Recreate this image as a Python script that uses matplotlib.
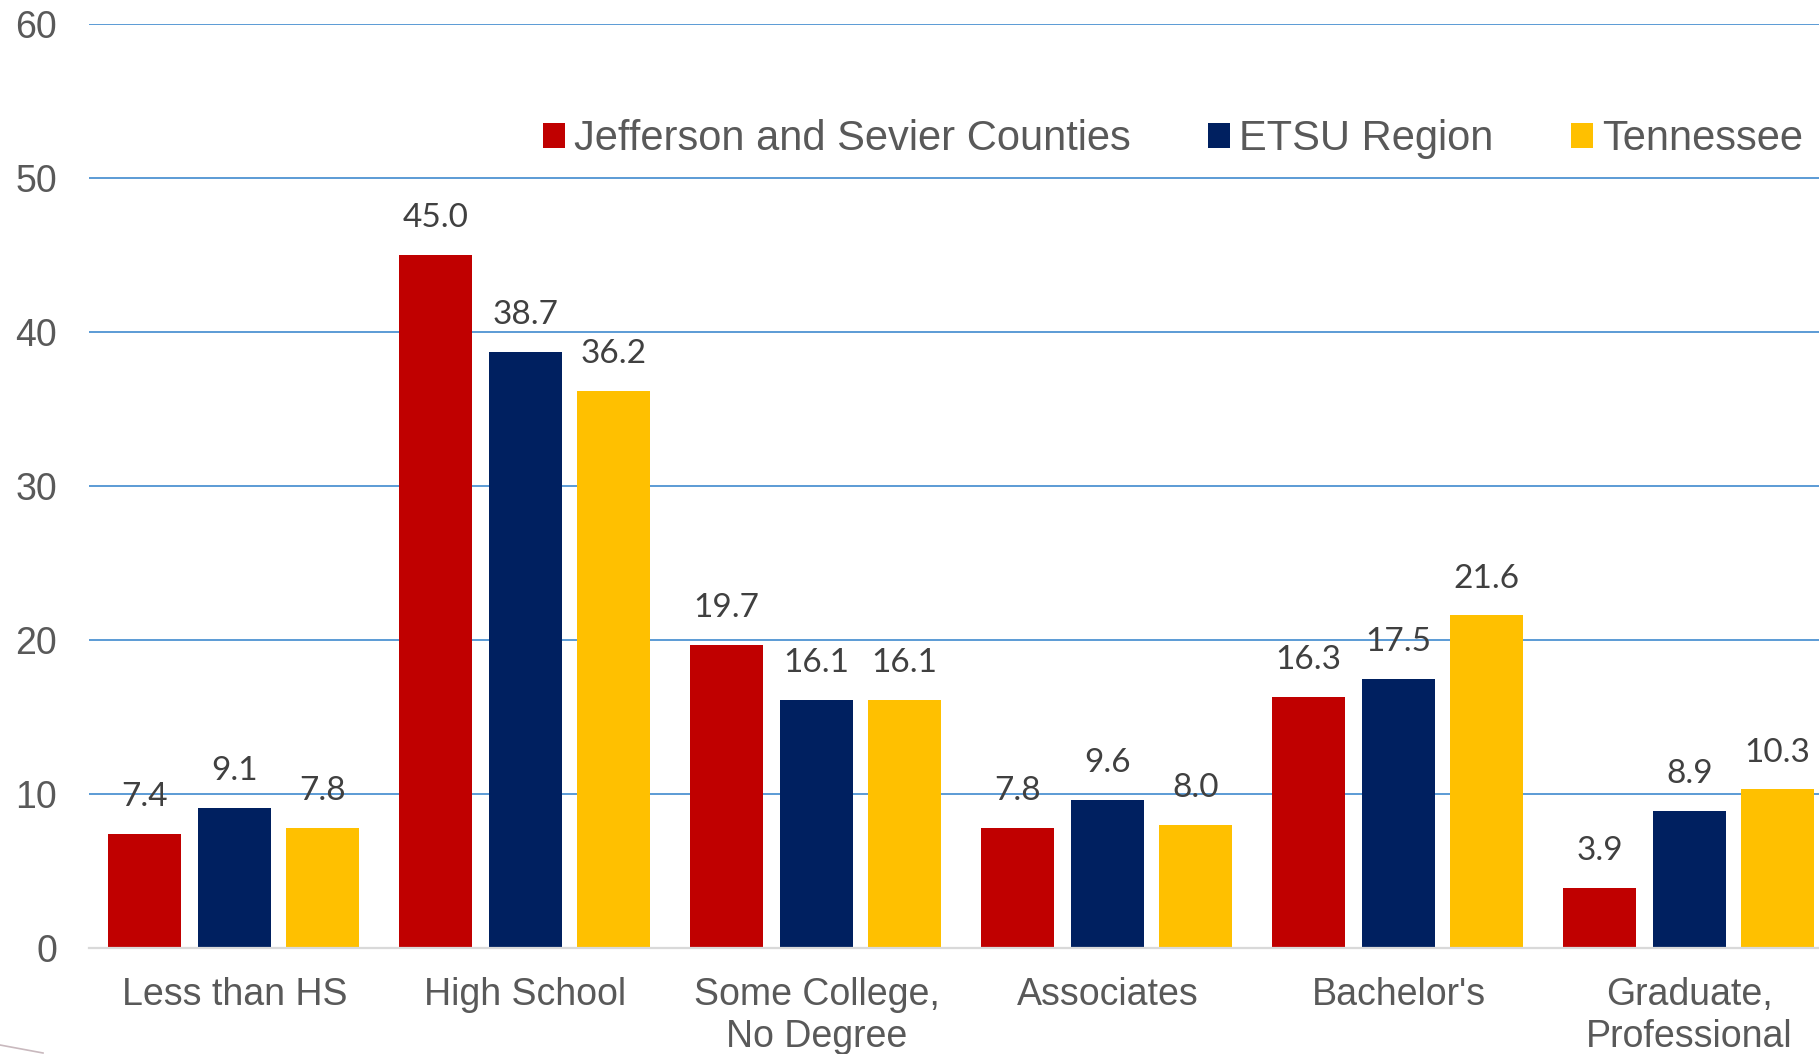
import numpy as np
import matplotlib
matplotlib.use('Agg')
import matplotlib.pyplot as plt
from matplotlib.patches import Patch
from matplotlib.lines import Line2D

# data
categories = ['Less than HS', 'High School', 'Some College,\nNo Degree',
              'Associates', "Bachelor's", 'Graduate,\nProfessional']
series_names = ['Jefferson and Sevier Counties', 'ETSU Region', 'Tennessee']
jefferson_sevier = [7.4, 45.0, 19.7, 7.8, 16.3, 3.9]
etsu_region = [9.1, 38.7, 16.1, 9.6, 17.5, 8.9]
tennessee = [7.8, 36.2, 16.1, 8.0, 21.6, 10.3]
y_ticks = [0, 10, 20, 30, 40, 50, 60]

colors = ['#C00000', '#002060', '#FFC000']
W, H = 1819, 1054
dpi = 100

fig = plt.figure(figsize=(W / dpi, H / dpi), dpi=dpi)
# plot area runs a little past the right edge, like the clipped slide
ax = fig.add_axes([89 / W, (H - 948) / H, 1746 / W, 924 / H])

x = np.arange(len(categories))
width = 0.251
offsets = [-0.309, 0.0, 0.302]
all_series = [jefferson_sevier, etsu_region, tennessee]

for vals, off, col in zip(all_series, offsets, colors):
    bars = ax.bar(x + off, vals, width, color=col, zorder=3)
    for b, v in zip(bars, vals):
        ax.annotate('%.1f' % v, (b.get_x() + b.get_width() / 2, v),
                    xytext=(0, 20), textcoords='offset points',
                    ha='center', va='baseline', fontsize=24,
                    family=['Lato', 'DejaVu Sans'], color='#404040', zorder=4)

ax.set_xlim(-0.5, len(categories) - 0.5)
ax.set_ylim(0, 60)
ax.set_yticks(y_ticks)
ax.set_yticklabels([str(t) for t in y_ticks])
ax.set_xticks(x)
ax.set_xticklabels(categories)

for lab in ax.get_yticklabels() + ax.get_xticklabels():
    lab.set_family(['Liberation Sans', 'DejaVu Sans'])
    lab.set_fontsize(27)
    lab.set_color('#595959')
ax.tick_params(axis='y', length=0, pad=23)
ax.tick_params(axis='x', length=0, pad=21)

ax.yaxis.grid(True, color='#5B9BD5', linewidth=1.4, zorder=0)
ax.set_axisbelow(True)
for side in ['top', 'right', 'left']:
    ax.spines[side].set_visible(False)
ax.spines['bottom'].set_color('#D9D9D9')
ax.spines['bottom'].set_linewidth(1.6)
ax.spines['bottom'].set_zorder(5)

handles = [Patch(facecolor=c, edgecolor='none') for c in colors]
ax.legend(handles, series_names, ncol=3, frameon=False,
          loc='center left', bbox_to_anchor=(543 / W, 1 - 139 / H),
          bbox_transform=fig.transFigure, borderpad=0, borderaxespad=0,
          handlelength=0.53, handleheight=0.53, handletextpad=0.22,
          columnspacing=1.85,
          prop={'family': ['Liberation Sans', 'DejaVu Sans'], 'size': 30},
          labelcolor='#595959')

# bit of slide decoration in the lower-left corner
fig.add_artist(Line2D([0, 43 / W], [1 - 1045 / H, 1 - 1053 / H],
                      transform=fig.transFigure, color='#C9B9BE', linewidth=1.2))

fig.savefig('out.png', dpi=dpi)
